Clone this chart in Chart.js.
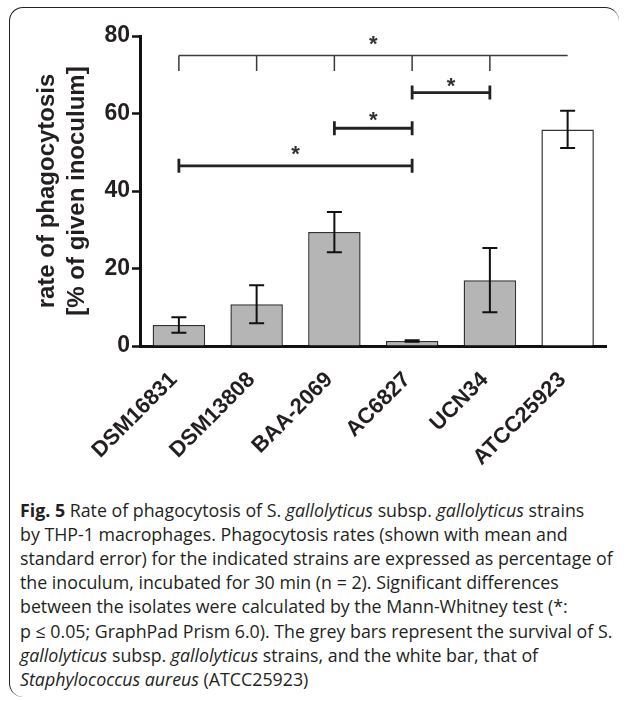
<!DOCTYPE html>
<html>
<head>
<meta charset="utf-8">
<script src="https://cdn.jsdelivr.net/npm/chart.js@4.4.1/dist/chart.umd.min.js"></script>
<style>
  html, body { margin: 0; padding: 0; background: #fff; }
  body { width: 627px; height: 701px; position: relative; overflow: hidden; }
  #frame { position: absolute; left: 9px; top: 7px; width: 610px; height: 690px; box-sizing: border-box;
           border-top: 1.5px solid #222; border-left: 1.5px solid #222; border-radius: 14px; }
  #wrap { position: absolute; left: 0; top: 0; width: 627px; height: 470px; }
  #caption { position: absolute; left: 20px; top: 497.5px; font-family: 'Open Sans', sans-serif; font-size: 18px;
             line-height: 24.2px; color: #231f20; white-space: nowrap; transform-origin: 0 0; transform: scaleX(0.988); }
</style>
</head>
<body>
<div id="frame"></div>
<div id="wrap"><canvas id="chart" width="627" height="470"></canvas></div>
<div id="caption">
<b>Fig. 5</b> Rate of phagocytosis of S. <i>gallolyticus</i> subsp. <i>gallolyticus</i> strains<br>
by THP-1 macrophages. Phagocytosis rates (shown with mean and<br>
standard error) for the indicated strains are expressed as percentage of<br>
the inoculum, incubated for 30 min (n = 2). Significant differences<br>
between the isolates were calculated by the Mann-Whitney test (*:<br>
p ≤ 0.05; GraphPad Prism 6.0). The grey bars represent the survival of S.<br>
<i>gallolyticus</i> subsp. <i>gallolyticus</i> strains, and the white bar, that of<br>
<i>Staphylococcus aureus</i> (ATCC25923)
</div>
<script>
// strains and phagocytosis rate (% of inoculum), mean and standard error
const strains = ['DSM16831', 'DSM13808', 'BAA-2069', 'AC6827', 'UCN34', 'ATCC25923'];
const means = [5.4, 10.8, 29.4, 1.3, 17.0, 55.9];
const sem = [2.0, 4.9, 5.2, 0.2, 8.3, 4.8];
const species = ['Sgg', 'Sgg', 'Sgg', 'Sgg', 'Sgg', 'S. aureus'];
const yTicks = [0, 20, 40, 60, 80];

// comb bracket: ATCC25923 against every other strain
const combFrom = [0, 1, 2, 3, 4];
const combTo = 5;
const combLevel = 75;
const combDrop = 71;
const combStar = 79.4;

// pairwise brackets
const pairFrom = [0, 2, 3];
const pairTo = [3, 3, 4];
const pairLevel = [46.5, 56.2, 65.4];
const pairStar = [51.0, 59.8, 68.4];

const ink = '#231f20';
const font = 'Liberation Sans, Arial, sans-serif';

const errorBars = {
    id: 'errorBars',
    afterDatasetsDraw(chart) {
        const {ctx, scales: {x, y}} = chart;
        ctx.save();
        ctx.strokeStyle = '#111';
        ctx.lineWidth = 2;
        means.forEach((m, i) => {
            const px = x.getPixelForValue(i);
            const top = y.getPixelForValue(m + sem[i]);
            const bot = y.getPixelForValue(m - sem[i]);
            ctx.beginPath();
            ctx.moveTo(px, top); ctx.lineTo(px, bot);
            ctx.moveTo(px - 7.5, top); ctx.lineTo(px + 7.5, top);
            ctx.moveTo(px - 7.5, bot); ctx.lineTo(px + 7.5, bot);
            ctx.stroke();
        });
        ctx.restore();
    }
};

function star(ctx, px, py) {
    ctx.font = 'bold 22px ' + font;
    ctx.fillStyle = '#333';
    ctx.textAlign = 'center';
    ctx.textBaseline = 'alphabetic';
    ctx.fillText('*', px, py + 22 * 0.57);
}

const brackets = {
    id: 'brackets',
    afterDraw(chart) {
        const {ctx, scales: {x, y}} = chart;
        ctx.save();
        // comb
        const yTop = y.getPixelForValue(combLevel);
        const yDrop = y.getPixelForValue(combDrop);
        ctx.strokeStyle = '#3a3a3a';
        ctx.lineWidth = 1.5;
        ctx.beginPath();
        ctx.moveTo(x.getPixelForValue(combFrom[0]), yTop);
        ctx.lineTo(x.getPixelForValue(combTo), yTop);
        combFrom.forEach(i => {
            const px = x.getPixelForValue(i);
            ctx.moveTo(px, yTop); ctx.lineTo(px, yDrop);
        });
        ctx.stroke();
        star(ctx, (x.getPixelForValue(combFrom[0]) + x.getPixelForValue(combTo)) / 2, y.getPixelForValue(combStar));
        // pairs
        ctx.strokeStyle = '#222';
        ctx.lineWidth = 2.8;
        pairFrom.forEach((a, k) => {
            const x1 = x.getPixelForValue(a);
            const x2 = x.getPixelForValue(pairTo[k]);
            const py = y.getPixelForValue(pairLevel[k]);
            ctx.beginPath();
            ctx.moveTo(x1, py); ctx.lineTo(x2, py);
            ctx.moveTo(x1, py - 7); ctx.lineTo(x1, py + 7);
            ctx.moveTo(x2, py - 7); ctx.lineTo(x2, py + 7);
            ctx.stroke();
            star(ctx, (x1 + x2) / 2, y.getPixelForValue(pairStar[k]));
        });
        ctx.restore();
    }
};

const ctx = document.getElementById('chart').getContext('2d');
const myChart = new Chart(ctx, {
    type: 'bar',
    data: {
        labels: strains,
        datasets: [{
            data: means,
            backgroundColor: species.map(s => s === 'S. aureus' ? '#ffffff' : '#b5b5b5'),
            borderColor: '#333',
            borderWidth: 1.5,
            categoryPercentage: 1,
            barPercentage: 0.675
        }]
    },
    options: {
        responsive: false,
        animation: false,
        layout: { padding: { left: 0, right: 20.5, top: 36, bottom: 0 } },
        plugins: { legend: { display: false }, tooltip: { enabled: false } },
        scales: {
            x: {
                offset: true,
                grid: { display: false, drawTicks: false },
                border: { color: '#111', width: 3 },
                ticks: {
                    font: { family: font, size: 22, weight: 'bold' },
                    color: ink, maxRotation: 45, minRotation: 45, padding: 21, labelOffset: -5, autoSkip: false
                },
                afterFit: s => { s.height = 124; }
            },
            y: {
                min: yTicks[0],
                max: yTicks[yTicks.length - 1],
                afterBuildTicks: s => { s.ticks = yTicks.map(v => ({value: v})); },
                ticks: { font: { family: font, size: 23, weight: 'bold' }, color: ink, padding: 2 },
                grid: { drawOnChartArea: false, tickLength: 8, tickColor: '#111', tickWidth: 2.5 },
                border: { color: '#111', width: 3 },
                title: {
                    display: true,
                    text: ['rate of phagocytosis', '[% of given inoculum]'],
                    font: { family: font, size: 24, weight: 'bold', lineHeight: 1.25 },
                    color: ink,
                    padding: { top: 32, bottom: 0 }
                },
                afterFit: s => { s.width = 140; }
            }
        }
    },
    plugins: [errorBars, brackets]
});
</script>
</body>
</html>
